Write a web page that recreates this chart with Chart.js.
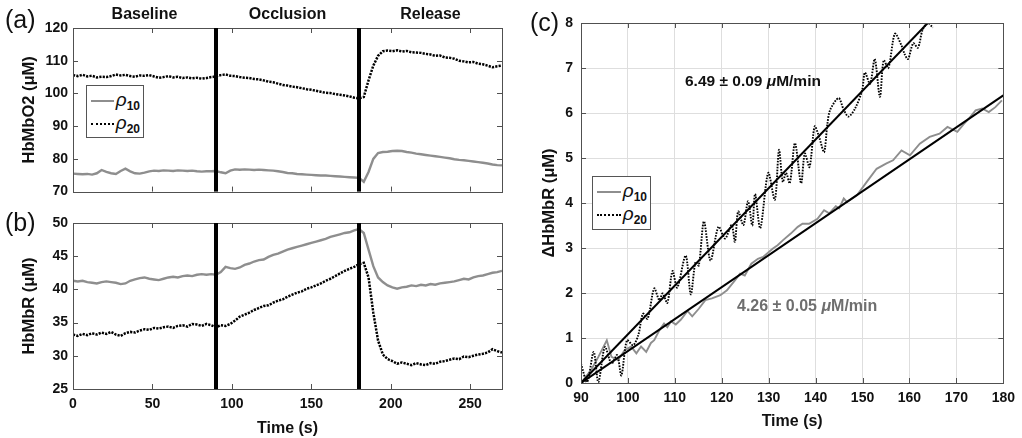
<!DOCTYPE html>
<html><head><meta charset="utf-8">
<script src="https://cdn.jsdelivr.net/npm/chart.js@4.4.0/dist/chart.umd.min.js"></script>
<style>
html,body{margin:0;padding:0;background:#fff;}
#wrap{position:relative;width:1022px;height:438px;overflow:hidden;font-family:"Liberation Sans",Arial,sans-serif;color:#111;}
canvas{position:absolute;}
.lbl{position:absolute;white-space:nowrap;line-height:1;}
.legend{position:absolute;border:1px solid #555;background:#fff;box-sizing:border-box;padding:3px 3px 0 4px;}
.legend .row{display:flex;align-items:center;height:23px;white-space:nowrap;}
.legend .sw{display:inline-block;width:25px;height:0;margin-right:2px;}
.legend .txt{display:inline-block;line-height:1;}
.legend i{font-size:19px;font-style:italic;}
.legend sub{font-size:12px;font-weight:bold;vertical-align:-4px;line-height:1;}
</style></head><body>
<div id="wrap">
  <canvas id="ca" width="520" height="205" style="left:0px;top:0px"></canvas>
  <canvas id="cb" width="520" height="238" style="left:0px;top:200px"></canvas>
  <canvas id="cc" width="502" height="438" style="left:520px;top:0px"></canvas>
  <div class="lbl" style="left:5px;top:7px;font-size:25px;">(a)</div>
  <div class="lbl" style="left:5px;top:210px;font-size:25px;">(b)</div>
  <div class="lbl" style="left:530px;top:10px;font-size:25px;">(c)</div>
  <div class="lbl" style="left:685px;top:73px;font-size:15.5px;font-weight:bold;color:#111;">6.49 ± 0.09 <i>μ</i>M/min</div>
  <div class="lbl" style="left:737px;top:298px;font-size:16px;font-weight:bold;color:#6e6e6e;">4.26 ± 0.05 <i>μ</i>M/min</div>
  <div id="lega" class="legend" style="left:86px;top:85px;width:58px;height:53px;"></div>
  <div id="legc" class="legend" style="left:592px;top:176px;width:59px;height:54px;"></div>
</div>
<script>
// ---------- DATA ----------
const phaseNames = ['Baseline', 'Occlusion', 'Release'];
const phaseBounds = [0, 90, 180, 270];
const eventTimes = [90, 180];

const tAB = [0,3,6,9,12,15,18,21,24,27,30,33,36,39,42,45,48,51,54,57,60,63,66,69,72,75,78,81,84,87,
  90,93,96,99,102,105,108,111,114,117,120,123,126,129,132,135,138,141,144,147,150,153,156,159,162,165,168,171,174,177,
  180,183,186,189,192,195,198,201,204,207,210,213,216,219,222,225,228,231,234,237,240,243,246,249,252,255,258,261,264,267,270];

const hbo2_r10 = [75.5,75.4,75.3,75.4,75.2,75.6,76.6,76.0,75.6,75.4,
  76.3,77.0,76.2,75.6,75.5,75.8,76.2,76.4,76.3,76.5,
  76.4,76.3,76.5,76.4,76.3,76.4,76.2,76.1,76.2,76.2,
  76.3,75.9,75.6,76.4,76.8,76.7,76.8,76.7,76.6,76.7,
  76.6,76.5,76.4,76.2,76.0,75.7,75.6,75.4,75.3,75.2,
  75.1,75.0,74.9,74.9,74.8,74.7,74.6,74.5,74.4,74.3,
  74.2,73.0,76.0,80.0,81.8,82.1,82.2,82.4,82.5,82.4,
  82.1,81.9,81.6,81.4,81.2,81.0,80.8,80.6,80.4,80.2,
  79.9,79.7,79.6,79.4,79.2,79.0,78.8,78.6,78.3,78.1,
  78.0];
const hbo2_r20 = [105.6,105.3,105.7,105.2,105.4,104.9,105.1,105.0,105.3,105.8,
  105.5,105.7,105.3,105.1,105.5,105.4,105.6,105.2,104.8,105.0,
  105.3,104.9,105.1,104.7,104.9,104.6,104.8,104.5,104.7,105.0,
  105.2,105.6,105.8,105.4,105.3,105.0,104.8,104.7,104.4,104.3,
  104.0,103.6,103.4,103.0,102.6,102.4,102.1,101.9,101.6,101.3,
  101.1,100.8,100.5,100.2,100.1,99.8,99.6,99.4,99.1,98.7,
  98.5,98.9,104.0,108.5,111.5,112.9,113.1,112.9,113.2,112.8,
  113.0,112.6,112.5,112.4,112.1,111.9,111.5,111.6,111.0,110.9,
  110.6,110.0,109.8,109.5,109.6,109.1,108.9,108.5,108.0,108.3,
  108.5];
const hbr_r10 = [41.3,41.2,41.3,41.1,41.0,40.9,41.1,41.2,41.1,41.0,
  40.8,40.9,41.3,41.5,41.7,41.8,41.6,41.5,41.4,41.6,
  41.8,41.9,41.8,42.0,42.1,42.0,42.2,42.3,42.2,42.3,
  42.2,42.6,43.4,43.2,43.1,43.3,43.7,43.9,44.2,44.4,
  44.5,44.9,45.2,45.4,45.7,46.0,46.2,46.4,46.6,46.8,
  47.0,47.2,47.4,47.6,47.9,48.1,48.3,48.5,48.6,48.9,
  49.1,48.5,46.0,43.5,41.8,41.1,40.6,40.3,40.1,40.3,
  40.4,40.6,40.5,40.7,40.6,40.8,40.7,40.9,41.0,41.1,
  41.2,41.4,41.6,41.5,41.8,42.0,42.1,42.3,42.5,42.6,
  42.8];
const hbr_r20 = [33.2,33.0,33.3,33.1,33.4,33.2,33.5,33.3,33.6,33.2,
  33.0,33.4,33.6,33.5,33.8,34.0,33.9,34.2,34.1,34.3,
  34.4,34.2,34.5,34.6,34.4,34.8,34.7,34.5,34.8,34.6,
  34.3,34.6,34.5,34.8,35.3,35.9,36.2,36.5,36.9,37.2,
  37.5,37.6,38.0,38.3,38.5,38.9,39.2,39.5,39.7,40.1,
  40.3,40.6,40.9,41.3,41.6,42.0,42.4,42.8,43.1,43.4,
  43.8,44.0,41.8,36.5,32.3,30.2,29.5,29.2,28.8,29.0,
  28.8,28.6,28.9,28.7,28.6,28.9,28.8,29.1,29.2,29.4,
  29.6,29.5,29.9,29.8,30.0,30.2,30.3,30.5,31.0,30.7,
  30.5];

// panel (c): change of HbMbR during occlusion
const tC10 = [90,92.1,93.7,95.5,96.5,97.9,99.3,100.7,101.8,102.8,103.9,104.9,105.6,106.7,107.7,108.4,109.2,110.2,111.3,112.7,
  113.7,115.1,116.5,117.9,119.7,121.1,122.8,123.9,124.9,126.3,127.7,128.8,130.9,131.9,133,134.7,136.2,137.2,138.6,140.4,
  141.8,142.9,144.3,145,146,146.7,148.8,150.9,153,155.1,156.5,158.3,160.1,162.2,164.3,166.4,168.1,170.2,171.6,172.7,
  174.1,175.5,176.9,178.3,179.7];
const dC10 = [0,0.28,0.58,0.95,0.58,0.51,0.73,0.81,0.66,0.81,0.69,0.89,0.95,1.17,1.32,1.24,1.37,1.3,1.41,1.6,
  1.48,1.65,1.84,1.88,1.95,2.06,2.28,2.43,2.39,2.65,2.76,2.8,2.99,3.06,3.17,3.32,3.47,3.54,3.54,3.65,
  3.84,3.77,3.93,3.88,4.1,4.02,4.17,4.47,4.76,4.88,4.95,5.17,5.06,5.32,5.47,5.54,5.69,5.58,5.76,5.88,
  6.06,6.1,6.02,6.13,6.28];
const tC20 = [90,91.3,92.7,93.7,95.1,96.5,97.7,98.6,99.8,101.1,102.2,103.2,104.2,105.6,106.7,107.4,108.4,109.5,110.5,112.3,
  113.4,114.4,115.1,116.2,117.6,119.3,120.7,122.1,122.8,123.5,124.6,125.6,126.5,127.1,128.2,129.9,131.3,132.2,133,133.7,
  134.5,135.6,136.9,137.7,138.7,139.8,140.8,141.8,142.5,143.1,144.9,146,147,148.4,149.9,150.5,151.6,152.6,153.7,154.5,
  155.5,156.9,158.3,159,159.7,160.8,161.8,162.8,163.9,165];
const dC20 = [0.43,0.02,0.69,0.02,0.8,0.43,0.62,0.17,0.95,0.84,1.06,1.54,1.43,2.1,1.84,1.99,1.78,2.49,2.12,2.83,
  1.97,2.69,2.61,3.59,2.72,3.47,3.21,3.51,3.14,3.81,3.51,4.04,3.5,4.2,3.44,4.67,4.07,5.18,4.47,4.67,
  4.44,5.33,4.44,5.1,4.8,5.7,5.45,5.13,5.75,6.07,6.33,6.07,5.92,6.1,6.5,6.9,6.65,7.2,6.36,7.17,
  7.0,7.76,7.5,7.3,7.2,7.55,7.45,7.85,8.0,7.9];
// linear fits (start and end of each fitted line)
const fitT10 = [90, 180], fitD10 = [0, 6.39];
const fitT20 = [90, 163.9], fitD20 = [0, 8.0];

// ---------- helpers ----------
const FONT = '"Liberation Sans", Arial, sans-serif';
const pts = (xs, ys) => xs.map((x, i) => ({x, y: ys[i]}));

const boxTicks = {
  id: 'boxTicks',
  afterDatasetsDraw(chart) {
    const {ctx, chartArea: a, scales: {x, y}} = chart;
    const L = 5;
    ctx.save();
    ctx.strokeStyle = '#505050';
    ctx.lineWidth = 1;
    ctx.beginPath();
    x.ticks.forEach(t => {
      const p = Math.round(x.getPixelForValue(t.value)) + 0.5;
      ctx.moveTo(p, a.bottom); ctx.lineTo(p, a.bottom - L);
      ctx.moveTo(p, a.top); ctx.lineTo(p, a.top + L);
    });
    y.ticks.forEach(t => {
      const p = Math.round(y.getPixelForValue(t.value)) + 0.5;
      ctx.moveTo(a.left, p); ctx.lineTo(a.left + L, p);
      ctx.moveTo(a.right, p); ctx.lineTo(a.right - L, p);
    });
    ctx.stroke();
    ctx.strokeRect(Math.round(a.left) + 0.5, Math.round(a.top) + 0.5, Math.round(a.width), Math.round(a.height));
    ctx.restore();
  }
};
const eventLines = {
  id: 'eventLines',
  afterDatasetsDraw(chart, args, o) {
    if (!o.times) return;
    const {ctx, chartArea: a, scales: {x}} = chart;
    ctx.save();
    ctx.strokeStyle = '#000';
    ctx.lineWidth = 4;
    o.times.forEach(t => {
      const p = x.getPixelForValue(t);
      ctx.beginPath(); ctx.moveTo(p, a.top); ctx.lineTo(p, a.bottom); ctx.stroke();
    });
    ctx.restore();
  }
};
const phaseLabels = {
  id: 'phaseLabels',
  afterDraw(chart, args, o) {
    if (!o.names) return;
    const {ctx, chartArea: a, scales: {x}} = chart;
    ctx.save();
    ctx.font = 'bold 16px ' + FONT;
    ctx.fillStyle = '#111';
    ctx.textAlign = 'center';
    ctx.textBaseline = 'middle';
    o.names.forEach((n, i) => {
      const c = (x.getPixelForValue(o.bounds[i]) + x.getPixelForValue(o.bounds[i + 1])) / 2;
      ctx.fillText(n, c, a.top - 13);
    });
    ctx.restore();
  }
};

function makeOpts(c) {
  return {
    responsive: false, animation: false, devicePixelRatio: 1,
    layout: {padding: c.pad},
    plugins: {legend: {display: false}, tooltip: {enabled: false},
      eventLines: {times: c.events}, phaseLabels: {names: c.phases, bounds: phaseBounds}},
    elements: {point: {radius: 0}, line: {tension: 0}},
    scales: {
      x: {type: 'linear', min: c.x[0], max: c.x[1],
        ticks: {display: c.xLabels, stepSize: c.x[2], includeBounds: false, padding: 7,
          color: '#111', font: {family: FONT, size: 14, weight: 'bold'}, maxRotation: 0},
        grid: {display: !!c.grid, drawTicks: false, color: '#dedede', lineWidth: 1},
        border: {display: false},
        title: {display: !!c.xTitle, text: c.xTitle, color: '#111', padding: {top: 0, bottom: c.xTitlePad || 0},
          font: {family: FONT, size: 16, weight: 'bold'}},
        afterFit: s => { s.height = c.xH; }},
      y: {type: 'linear', min: c.y[0], max: c.y[1],
        ticks: {stepSize: c.y[2], includeBounds: false, padding: c.yPad,
          color: '#111', font: {family: FONT, size: 14, weight: 'bold'}},
        grid: {display: !!c.grid, drawTicks: false, color: '#dedede', lineWidth: 1},
        border: {display: false},
        title: {display: true, text: c.yTitle, color: '#111', padding: {top: 4, bottom: 0},
          font: {family: FONT, size: 16.5, weight: 'bold'}},
        afterFit: s => { s.width = c.yW; }}
    }
  };
}

const GRAY = '#8e8e8e';
const sGray = (label, data, w) => ({label, data, borderColor: GRAY, borderWidth: w, legend: true, order: 3});
const sDot = (label, data, w, dash, tension) => ({label, data, borderColor: '#000', borderWidth: w, borderDash: dash,
  tension: tension || 0, legend: true, order: 2});

const chartA = new Chart(document.getElementById('ca'), {
  type: 'line',
  data: {datasets: [sGray('ρ10', pts(tAB, hbo2_r10), 2.4), sDot('ρ20', pts(tAB, hbo2_r20), 2.5, [2.2, 1.2])]},
  options: makeOpts({pad: {left: 16, top: 28, right: 18, bottom: 10}, x: [0, 270, 50], y: [70, 120, 10],
    xLabels: false, xH: 0, yW: 57, yPad: 5, yTitle: 'HbMbO2 (μM)', events: eventTimes, phases: phaseNames}),
  plugins: [boxTicks, eventLines, phaseLabels]
});
const chartB = new Chart(document.getElementById('cb'), {
  type: 'line',
  data: {datasets: [sGray('ρ10', pts(tAB, hbr_r10), 2.4), sDot('ρ20', pts(tAB, hbr_r20), 2.5, [2.2, 1.2])]},
  options: makeOpts({pad: {left: 16, top: 23, right: 18, bottom: 0}, x: [0, 270, 50], y: [25, 50, 5],
    xLabels: true, xH: 49, yW: 57, yPad: 5, yTitle: 'HbMbR (μM)', xTitle: 'Time (s)', xTitlePad: 0, events: eventTimes}),
  plugins: [boxTicks, eventLines]
});
const chartC = new Chart(document.getElementById('cc'), {
  type: 'line',
  data: {datasets: [
    {label: 'fit ρ20', data: pts(fitT20, fitD20), borderColor: '#000', borderWidth: 2, order: 1},
    {label: 'fit ρ10', data: pts(fitT10, fitD10), borderColor: '#000', borderWidth: 2, order: 1},
    sGray('ρ10', pts(tC10, dC10), 1.9),
    sDot('ρ20', pts(tC20, dC20), 1.9, [1.6, 1.3], 0.3)
  ]},
  options: makeOpts({pad: {left: 16, top: 23, right: 14, bottom: 0}, x: [90, 180, 10], y: [0, 8, 1],
    xLabels: true, xH: 55, yW: 45, yPad: 8, yTitle: 'ΔHbMbR (μM)', xTitle: 'Time (s)', xTitlePad: 7, grid: true}),
  plugins: [boxTicks]
});

function makeLegend(chart, el) {
  chart.data.datasets.filter(d => d.legend).forEach(d => {
    const row = document.createElement('div');
    row.className = 'row';
    const sw = document.createElement('span');
    sw.className = 'sw';
    sw.style.borderTop = (d.borderDash ? '2px dotted ' : '2px solid ') + d.borderColor;
    row.appendChild(sw);
    const txt = document.createElement('span');
    txt.className = 'txt';
    const i = document.createElement('i'); i.textContent = d.label.charAt(0);
    const s = document.createElement('sub'); s.textContent = d.label.slice(1);
    txt.appendChild(i); txt.appendChild(s);
    row.appendChild(txt);
    el.appendChild(row);
  });
}
makeLegend(chartA, document.getElementById('lega'));
makeLegend(chartC, document.getElementById('legc'));
</script>
</body></html>
